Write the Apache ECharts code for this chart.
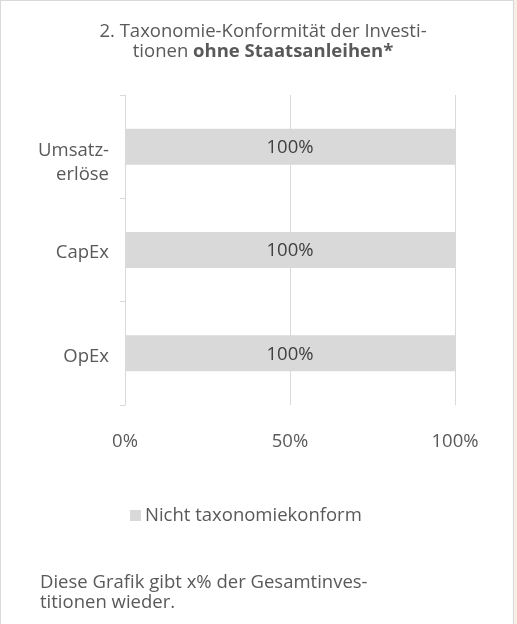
<!DOCTYPE html>
<html><head><meta charset="utf-8">
<script src="https://cdn.jsdelivr.net/npm/echarts@6/dist/echarts.min.js"></script>
<style>
html,body{margin:0;padding:0;background:#f7efe6;}
#wrap{position:absolute;left:0;top:0;width:514px;height:624px;background:#fff;border-top:1px solid #d9d9d9;border-left:1px solid #d9d9d9;border-right:1px solid #d9d9d9;box-sizing:border-box;}
#c{position:absolute;left:0;top:0;width:517px;height:624px;}
</style></head>
<body><div id="wrap"></div><div id="c"></div>
<script>
const categories = ['Umsatz-\nerlöse', 'CapEx', 'OpEx'];
const seriesName = 'Nicht taxonomiekonform';
const values = [100, 100, 100];
const xTicks = [0, 50, 100];

const font = '"Open Sans", sans-serif';
const fs = 18.5;
const txt = '#595959';
const chart = echarts.init(document.getElementById('c'), null, {renderer:'canvas'});
chart.setOption({
  backgroundColor: 'transparent',
  animation: false,
  textStyle: {fontFamily: font},
  title: {
    text: '2. Taxonomie-Konformität der Investi-\ntionen {b|ohne Staatsanleihen*}',
    left: 258, top: 17, textAlign: 'center',
    textStyle: {fontFamily: font, fontSize: fs, fontWeight: 'normal', color: txt, lineHeight: 20,
      rich: {b: {fontFamily: font, fontSize: fs, fontWeight: 'bold', color: txt, lineHeight: 20}}}
  },
  legend: {
    data: [seriesName], left: 125, top: 501,
    itemWidth: 11, itemHeight: 11, itemGap: 5,
    textStyle: {fontFamily: font, fontSize: fs, color: txt, padding: [0,0,0,-1]},
    icon: 'rect'
  },
  graphic: [{
    type: 'text', left: 40, top: 573,
    style: {text: 'Diese Grafik gibt x% der Gesamtinves-\ntitionen wieder.', font: fs + 'px "Open Sans", sans-serif', fill: txt, lineHeight: 20}
  }],
  grid: {left: 125, top: 95, width: 330, height: 310, containLabel: false},
  xAxis: {
    type: 'value', min: xTicks[0], max: xTicks[xTicks.length-1], interval: 50,
    axisLine: {show: false}, axisTick: {show: false},
    splitLine: {show: true, lineStyle: {color: '#d9d9d9', width: 1}},
    axisLabel: {formatter: v => v + '%', fontFamily: font, fontSize: fs, color: txt, margin: 27}
  },
  yAxis: {
    type: 'category', inverse: true,
    data: categories,
    axisLine: {show: true, lineStyle: {color: '#d9d9d9', width: 1}},
    axisTick: {show: true, length: 5, lineStyle: {color: '#d9d9d9'}},
    axisLabel: {
      margin: 16, align: 'right',
      formatter: v => {
        const lines = v.split('\n');
        if (lines.length > 1) return '{m| }\n' + lines.map(l => '{a|' + l + '}').join('\n');
        return '{t| }\n{a|' + v + '}\n{s| }';
      },
      rich: {
        a: {fontFamily: font, fontSize: fs, color: txt, lineHeight: 24, align: 'right'},
        m: {fontFamily: font, fontSize: 4, lineHeight: 33, align: 'right'},
        t: {fontFamily: font, fontSize: 4, lineHeight: 35, align: 'right'},
        s: {fontFamily: font, fontSize: 4, lineHeight: 29, align: 'right'}
      }
    }
  },
  series: [{
    name: seriesName, type: 'bar', data: values, barWidth: 36,
    itemStyle: {color: '#d9d9d9'},
    label: {show: true, position: 'inside', formatter: p => p.value + '%', fontFamily: font, fontSize: fs, color: '#404040', offset: [0, 1]}
  }]
});
</script></body></html>
